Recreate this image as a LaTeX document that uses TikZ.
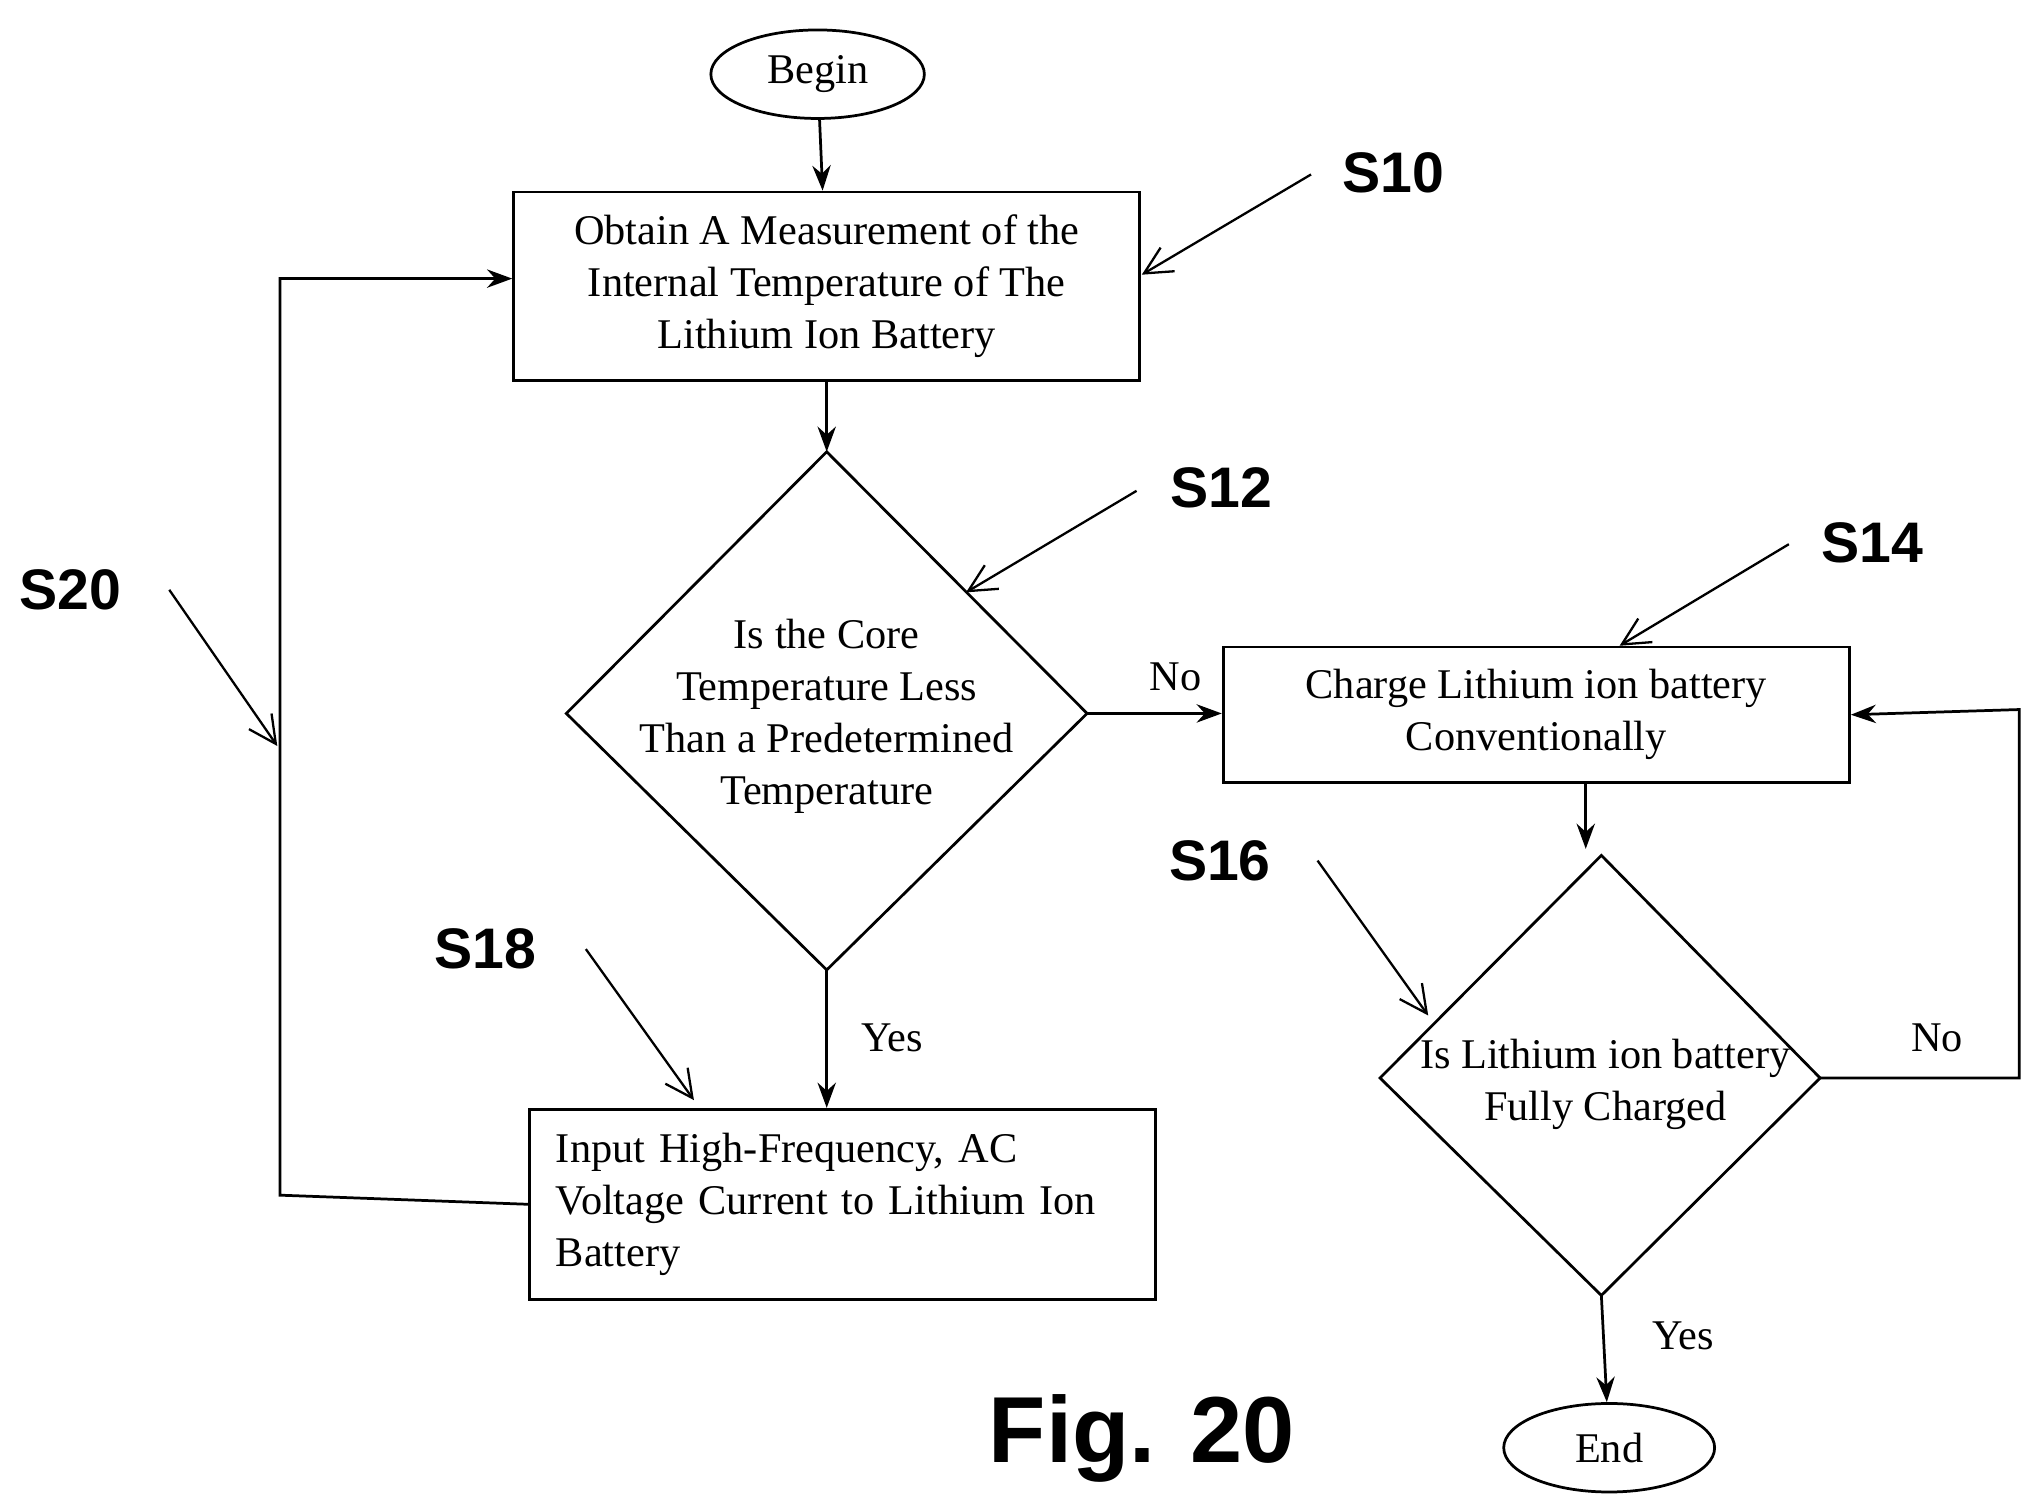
\documentclass[tikz,border=0pt]{standalone}
\usepackage{fontspec}
\setmainfont{Liberation Serif}
\setsansfont{Liberation Sans}
\begin{document}
\begin{tikzpicture}[x=0.02cm,y=-0.02cm,
  line width=1.2pt,
  txt/.style={font=\fontsize{18.5}{22.8}\selectfont, align=center},
  box/.style={draw, line width=1.2pt, minimum width=481*0.02cm, txt},
  oval/.style={draw, ellipse, line width=1.2pt, minimum width=164*0.02cm, minimum height=68*0.02cm, txt},
  lab/.style={font=\sffamily\bfseries\fontsize{25}{28}\selectfont},
  arr/.style={-{Stealth[length=11pt,width=8pt]}},
  ptr/.style={-{Straight Barb[length=12pt,width=12pt]}, line width=1pt}]
\usetikzlibrary{arrows.meta,shapes.geometric}
\useasboundingbox (0,0) rectangle (1560,1159);
\node[draw, ellipse, line width=1.2pt, minimum width=164*0.02cm, minimum height=68*0.02cm, txt] (begin) at (628,57) {Begin};
\node[draw, ellipse, line width=1.2pt, minimum width=162*0.02cm, minimum height=68*0.02cm, txt] (end) at (1236,1112) {End};
\node[box, minimum height=145*0.02cm] (b1) at (635,220) {Obtain A Measurement of the\\Internal Temperature of The\\Lithium Ion Battery};
\node[box, minimum height=104*0.02cm] (b14) at (1180,549) {Charge Lithium ion battery\\Conventionally};
\node[box, minimum height=146*0.02cm, align=left, text width=440*0.02cm] (b18) at (647,925) {Input High-Frequency, AC\\Voltage Current to Lithium Ion\\Battery};
% diamond 1
\coordinate (d1t) at (635,347); \coordinate (d1b) at (635,745);
\coordinate (d1l) at (435,548); \coordinate (d1r) at (835,548);
\draw (d1t) -- (d1r) -- (d1b) -- (d1l) -- cycle;
\node[txt] (d1) at (635,550) {Is the Core\\Temperature Less\\Than a Predetermined\\Temperature};
% diamond 2
\coordinate (d2t) at (1230,657); \coordinate (d2b) at (1230,995);
\coordinate (d2l) at (1060,828); \coordinate (d2r) at (1398,828);
\draw (d2t) -- (d2r) -- (d2b) -- (d2l) -- cycle;
\node[txt] (d2) at (1233,833) {Is Lithium ion battery\\Fully Charged};
% connectors
\draw[arr] (begin) -- (b1);
\draw[arr] (b1) -- (d1t);
\draw[arr] (d1r) -- (b14.west |- d1r);
\draw[arr] (d1b) -- (b18.north -| d1b);
\draw[arr] (b14.south -| 1218,0) -- (1218,652);
\draw[arr] (d2b) -- (end);
\coordinate (c1) at (1551,828); \coordinate (c2) at (1551,545);
\draw[arr] (d2r) -- (c1) -- (c2) -- (b14.east);
\coordinate (l1) at (215,918); \coordinate (l2) at (215,214);
\draw[arr] (b18.west) -- (l1) -- (l2) -- (b1.west |- l2);
% labels
\node[txt] (no1) at (903,520) {No};
\node[txt] (yes1) at (685,797) {Yes};
\node[txt] (no2) at (1488,797) {No};
\node[txt] (yes2) at (1293,1026) {Yes};
\node[lab] (s10) at (1070,133) {S10};
\node[lab] (s12) at (938,375) {S12};
\node[lab] (s14) at (1438,417) {S14};
\node[lab] (s16) at (937,661) {S16};
\node[lab] (s18) at (373,729) {S18};
\node[lab] (s20) at (54,453) {S20};
\coordinate (p10) at (1007,134); \coordinate (p12) at (873,377); \coordinate (p14) at (1374,418);
\coordinate (p16) at (1012,661); \coordinate (p18) at (450,729); \coordinate (p20) at (130,453);
\draw[ptr] (p10) -- (877,211);
\draw[ptr] (p12) -- (742,455);
\draw[ptr] (p14) -- (1244,496);
\draw[ptr] (p16) -- (1097,780);
\draw[ptr] (p18) -- (533,845);
\draw[ptr] (p20) -- (213,573);
\node[font=\sffamily\bfseries\fontsize{41}{46}\selectfont] (fig) at (877,1105) {Fig. 20};
\end{tikzpicture}
\end{document}
